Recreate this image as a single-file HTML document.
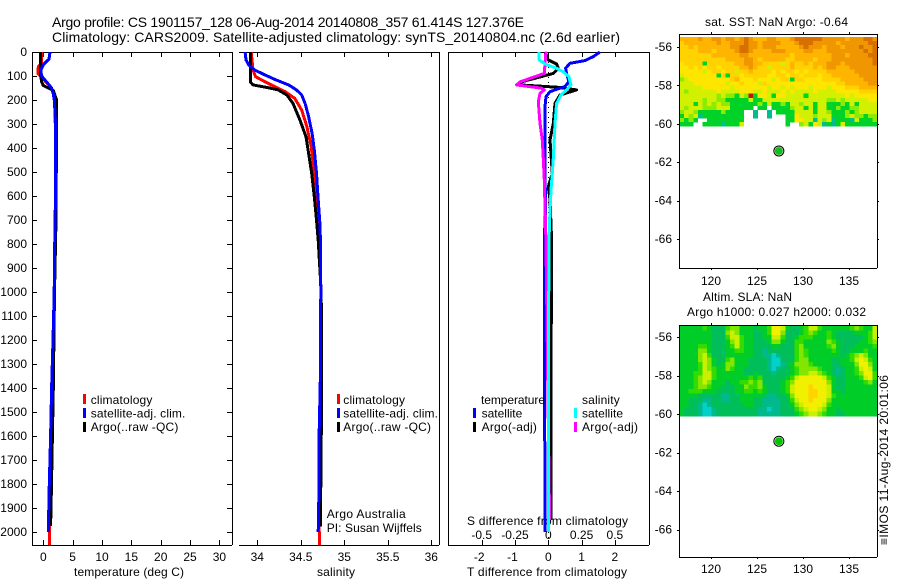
<!DOCTYPE html>
<html><head><meta charset="utf-8">
<style>
html,body{margin:0;padding:0;background:#fff;width:900px;height:580px;overflow:hidden}
svg{display:block}
text{font-family:"Liberation Sans",Arial,sans-serif;font-size:12px;fill:#000}
.title{font-size:14px}
</style></head>
<body>
<svg id="chart" width="900" height="580" viewBox="0 0 900 580" xmlns="http://www.w3.org/2000/svg">
<text class="title" x="52" y="27" textLength="472" lengthAdjust="spacing">Argo profile: CS 1901157_128 06-Aug-2014 20140808_357 61.414S 127.376E</text>
<text class="title" x="52" y="42" textLength="568" lengthAdjust="spacing">Climatology: CARS2009. Satellite-adjusted climatology: synTS_20140804.nc (2.6d earlier)</text>
<text x="74" y="576" textLength="110" lengthAdjust="spacing">temperature (deg C)</text>
<text x="317" y="576" textLength="38" lengthAdjust="spacing">salinity</text>
<text x="467" y="576" textLength="160" lengthAdjust="spacing">T difference from climatology</text>
<text x="467" y="525" textLength="161" lengthAdjust="spacing">S difference from climatology</text>
<text x="705" y="26" textLength="143" lengthAdjust="spacing">sat. SST: NaN Argo: -0.64</text>
<text x="703" y="301" textLength="89" lengthAdjust="spacing">Altim. SLA: NaN</text>
<text x="687" y="316" textLength="179" lengthAdjust="spacing">Argo h1000: 0.027 h2000: 0.032</text>
<text x="326.7" y="518" textLength="79" lengthAdjust="spacing">Argo Australia</text>
<text x="326.7" y="532" textLength="95" lengthAdjust="spacing">PI: Susan Wijffels</text>
<text transform="translate(888,545) rotate(-90)" textLength="170" lengthAdjust="spacing">≡IMOS 11-Aug-2014 20:01:06</text>
</svg>
<script>
// ---- axis tick labels ----
const depthTicks = [0,100,200,300,400,500,600,700,800,900,1000,1100,1200,1300,1400,1500,1600,1700,1800,1900,2000];
const tempTicks = [0,5,10,15,20,25,30];
const salTicks = [34,34.5,35,35.5,36];
const salTickLabels = ['34','34.5','35','35.5','36'];
const tDiffTicks = [-2,-1,0,1,2];
const sDiffTicks = [-0.5,-0.25,0,0.25,0.5];
const latTicks = [-56,-58,-60,-62,-64,-66];
const lonTicks = [120,125,130,135];

// ---- temperature panel ----
const climTempDepth = [0,50,60,90,110,150,175,200,300,700,1000,1400,1600,1800,2000,2054];
const climTempValue = [-0.28,-0.3,-0.85,-0.9,-0.1,1.4,1.7,1.9,2.05,2.05,1.85,1.45,1.25,1.05,1.02,1.02];
const argoTempDepth = [0,100,125,140,160,200,250,700,1000,1400,1600,1800,1975];
const argoTempValue = [-0.45,-0.45,-0.28,0,1.7,2.27,2.27,2.16,1.9,1.7,1.55,1.4,1.25];
const satTempDepth = [0,30,50,75,100,125,150,175,200,250,300,600,700,1000,1200,1400,1600,1800,2000];
const satTempValue = [1.14,0.97,0.11,-0.45,-0.28,0.57,1.42,1.7,1.88,2.0,2.1,2.1,2.0,1.85,1.65,1.42,1.25,1.02,0.85];

// ---- salinity panel ----
const climSalDepth = [0,75,103,124,144,165,193,242,311,394,505,644,783,1000,1400,1800,2054];
const climSalValue = [33.93,33.95,33.98,34.09,34.2,34.32,34.43,34.51,34.57,34.62,34.655,34.69,34.725,34.73,34.724,34.71,34.713];
const argoSalDepth = [0,124,137,149,158,179,214,283,353,422,505,603,700,783,1000,1400,1800,1977];
const argoSalValue = [33.92,33.92,33.95,34.13,34.24,34.34,34.41,34.49,34.56,34.59,34.625,34.655,34.68,34.7,34.735,34.74,34.73,34.724];
const satSalDepth = [0,33,54,75,96,117,137,158,179,214,269,339,408,505,616,714,783,1000,1367,1600,1800,2000];
const satSalValue = [33.86,33.87,33.9,33.97,34.09,34.22,34.36,34.45,34.51,34.55,34.59,34.63,34.655,34.68,34.7,34.72,34.725,34.73,34.724,34.71,34.71,34.7];

// ---- difference panel ----
const argoDiffDepth = [0,33,50,68,89,106,124,137,147,158,179,214,297,367,505,561,616,783,1400,1950];
const argoDiffT = [-0.1,0,0.25,0.3,0.15,-0.3,-0.8,-0.85,0.3,0.85,0.35,0.2,0.15,0.05,0.12,0,0.05,0.1,0.08,0.08];
const satDiffDepth = [0,19,36,47,68,89,124,144,165,186,228,367,505,644,783,1400,1740,2000];
const satDiffT = [1.55,1.35,1.1,0.65,0.52,0.55,0.62,0.5,0.05,-0.07,-0.1,-0.1,-0.1,-0.08,-0.12,-0.12,-0.1,-0.1];
const argoSalDiffDepth = [0,50,89,103,124,137,151,158,172,207,297,367,436,533,644,783,1950];
const argoSalDiffS = [-0.018,-0.025,-0.03,-0.1,-0.212,-0.238,-0.05,-0.03,-0.062,-0.075,-0.062,-0.045,-0.038,-0.03,-0.025,-0.018,0.01];
const satSalDiffDepth = [0,33,50,68,82,103,137,158,179,214,297,436,505,575,672,783,1400,2000];
const satSalDiffS = [-0.068,-0.068,-0.025,0.062,0.112,0.155,0.17,0.138,0.095,0.062,0.05,0.038,0.03,0.02,0.012,0.005,0,0];

// ---- float position ----
const floatLon = [127.376];
const floatLat = [-61.414];

// ---- SST map: colour levels per grid cell (null = no data) ----
const _ = null;
const sstLevels = [
[6,6,6,6,7,6,6,7,7,6,7,7,6,7,8,7,6,6,6,7,7,6,6,6,7,8,8,8,8,8,8,7,7,7,7,7,6,7,7,7,8,8,7],
[5,6,6,6,6,6,6,6,7,6,6,7,7,7,8,7,7,6,7,7,7,7,6,6,6,7,8,8,8,7,7,7,7,7,6,7,7,7,7,7,7,8,8],
[5,5,6,5,6,6,6,6,6,6,6,7,7,8,8,7,7,6,7,7,7,6,6,6,6,6,7,8,7,7,7,6,7,7,7,6,7,7,7,8,7,7,8],
[5,5,5,5,6,6,6,5,6,6,6,6,7,8,8,7,6,6,6,6,7,7,7,6,6,6,6,7,7,6,6,6,7,7,7,7,7,7,7,7,8,7,8],
[5,5,5,5,5,5,5,6,6,6,6,6,6,7,7,6,6,6,6,6,6,6,6,6,5,6,6,6,6,6,6,6,6,7,7,7,6,7,7,7,7,8,8],
[5,5,5,5,5,5,5,5,5,5,6,6,6,6,7,7,6,5,6,6,6,6,6,5,5,6,6,6,6,5,6,6,6,7,7,7,7,7,7,7,7,7,8],
[4,5,5,5,5,1,5,5,5,5,5,5,6,6,7,7,6,6,5,5,5,5,3,5,6,5,5,6,5,6,6,6,7,7,7,6,7,7,7,7,7,7,8],
[4,4,5,4,5,4,5,5,4,5,5,5,5,6,6,7,6,5,5,3,5,5,5,5,6,5,5,5,5,6,5,6,7,7,6,6,6,7,7,7,7,7,7],
[4,4,4,4,4,3,4,5,5,4,5,5,3,5,5,6,5,5,5,5,4,5,4,5,5,4,5,4,5,5,5,5,6,6,6,6,6,6,7,7,7,7,7],
[3,4,4,4,4,4,4,4,1,5,1,5,5,4,5,5,5,5,5,4,4,5,5,4,5,5,4,5,5,5,4,5,5,6,6,6,6,6,6,7,7,7,7],
[2,3,4,4,4,4,4,4,4,4,4,5,6,4,4,4,5,4,4,4,3,4,5,5,1,5,5,4,4,4,4,5,5,5,5,6,6,6,6,6,7,7,7],
[3,3,3,4,4,4,4,4,4,4,3,4,4,5,4,4,4,3,5,4,4,4,4,4,4,4,4,4,4,4,4,4,4,4,5,5,6,6,6,6,6,7,7],
[3,3,3,3,3,4,4,4,4,4,4,3,4,4,4,4,4,4,4,3,4,4,3,4,3,4,4,4,3,4,4,4,3,4,4,4,5,5,5,6,6,6,6],
[3,2,3,3,3,3,3,3,4,3,3,3,3,4,4,4,3,3,4,3,3,3,4,3,4,3,3,3,3,4,3,3,3,3,4,4,4,4,4,5,5,5,5],
[3,3,3,3,3,3,3,3,2,3,2,2,1,3,2,9,1,4,4,3,1,4,4,3,3,3,3,1,3,3,3,3,3,3,3,3,4,3,4,4,4,4,4],
[3,3,3,3,3,2,3,3,2,2,1,1,1,1,1,3,1,1,3,3,3,3,3,3,3,3,3,3,3,3,3,3,2,2,3,2,3,3,3,3,3,4,4],
[3,3,3,1,3,2,3,2,3,2,2,1,1,1,1,1,1,2,1,3,1,1,2,1,3,3,2,3,3,1,3,3,1,1,1,2,1,3,1,3,3,3,3],
[3,2,3,3,3,2,2,2,3,3,3,1,1,1,1,1,_,1,1,_,1,1,1,1,2,3,3,1,3,1,3,3,1,1,2,1,1,2,2,3,3,3,3],
[2,3,3,2,1,1,1,1,1,2,1,1,1,1,_,_,0,_,_,0,_,1,1,1,1,3,3,3,3,1,3,3,2,1,1,1,2,1,2,3,3,3,3],
[1,3,2,3,0,1,1,1,1,1,1,1,1,1,_,_,0,_,_,0,_,_,_,1,1,4,3,3,3,2,3,3,3,1,1,1,2,3,2,2,1,2,2],
[2,1,2,1,_,_,1,1,1,1,1,1,1,1,_,_,_,_,_,_,_,_,_,1,1,4,4,3,3,0,3,2,3,0,1,1,1,0,3,1,1,1,2],
[1,1,1,_,_,1,1,1,1,0,1,1,1,3,_,_,_,_,_,_,_,_,_,1,_,_,2,3,1,4,3,0,1,0,1,3,1,1,1,1,1,1,1]
];
const sstPalette = ['#00be8c','#00d228','#8ceb00','#d2f000','#ffe600','#ffd200','#ffb400','#f09600','#d87000','#be1400'];

// ---- SLA map: colour levels per grid cell ----
const slaLevels = [
[4,4,4,4,4,5,4,3,3,3,5,6,6,4,4,4,3,4,4,5,8,8,7,4,3,3,4,5,7,7,5,4,4,4,4,4,4,5,6,5,4,4,7],
[4,4,4,4,4,4,4,3,3,3,6,7,6,4,4,4,3,3,4,5,8,8,6,3,3,3,4,5,6,5,4,4,5,4,3,3,3,3,4,4,4,5,7],
[4,4,4,4,4,4,4,3,3,3,5,7,7,5,4,4,3,3,4,4,7,7,5,3,3,4,5,5,5,4,4,4,5,4,3,3,3,3,3,3,4,5,7],
[4,4,4,4,4,4,4,3,3,3,4,6,7,5,4,4,3,3,3,4,6,6,4,3,3,5,5,4,4,4,4,4,6,5,4,3,3,3,3,4,4,5,6],
[4,4,4,4,5,5,4,3,3,3,4,5,7,5,4,4,3,3,3,3,4,4,3,3,3,5,6,4,4,4,4,4,5,6,4,3,3,3,4,4,4,4,5],
[4,4,4,4,6,6,4,3,3,3,4,4,5,5,4,4,3,3,2,3,3,3,3,3,3,5,6,5,4,4,4,4,4,5,4,3,3,4,4,4,5,4,4],
[4,4,4,4,6,7,5,3,3,3,4,4,4,4,4,4,3,3,2,2,1,2,3,3,3,5,6,5,4,4,4,4,4,4,4,3,4,5,6,7,6,4,4],
[4,4,4,4,6,7,6,4,3,3,5,6,4,4,4,3,3,3,3,2,1,1,3,3,3,5,6,6,4,4,4,4,4,3,3,4,4,5,7,8,7,5,4],
[4,4,4,4,5,7,6,4,3,4,6,6,4,4,4,3,3,3,3,2,1,1,2,3,4,6,6,6,5,4,4,4,4,3,3,4,4,4,6,8,8,6,4],
[4,4,4,4,5,7,6,5,4,4,6,5,4,4,3,3,3,3,3,2,1,2,3,3,4,5,6,6,6,6,5,4,4,3,2,3,4,4,5,7,8,7,4],
[4,4,4,5,5,7,7,5,4,4,4,4,4,4,3,3,4,3,3,3,2,3,3,3,4,5,6,6,7,7,6,5,4,3,2,3,4,4,5,6,8,8,5],
[4,4,4,5,6,7,7,5,4,4,4,4,4,4,4,5,4,5,3,3,3,3,3,4,5,7,8,8,8,8,8,7,5,4,3,3,4,4,4,5,7,8,5],
[4,4,4,5,6,7,6,4,4,4,3,4,4,5,5,6,5,6,3,3,3,3,4,5,6,8,8,8,8,8,8,8,6,4,3,3,4,4,4,4,5,6,4],
[4,4,4,5,6,6,5,4,4,3,3,3,4,4,6,5,5,6,4,3,3,3,4,5,7,8,8,8,9,8,8,8,7,4,3,3,4,4,4,4,4,4,4],
[4,4,5,5,5,4,4,4,3,3,3,3,4,4,5,5,4,5,4,3,3,3,4,5,7,8,8,8,9,9,8,8,7,4,4,3,4,4,4,4,4,4,4],
[4,4,4,4,3,3,3,3,3,2,2,3,3,4,4,4,4,4,3,2,2,3,3,4,6,8,8,8,9,9,8,8,7,5,4,4,4,4,4,4,4,4,4],
[4,4,3,3,3,2,2,3,3,2,2,3,3,4,4,4,3,3,2,2,2,2,3,3,5,7,8,8,9,8,8,8,6,4,4,4,4,4,4,4,4,4,4],
[4,4,3,3,2,1,2,3,3,3,3,3,3,3,4,4,3,3,2,2,2,2,3,3,4,6,7,8,8,8,8,7,5,4,4,4,4,4,4,4,4,4,4],
[4,3,3,3,2,1,1,2,3,3,3,3,3,3,3,3,3,2,2,1,2,2,3,3,3,5,6,7,8,8,7,6,4,4,3,4,4,4,4,4,4,4,4],
[4,3,3,3,2,1,1,2,3,3,3,3,3,3,3,3,3,2,2,2,2,2,3,3,3,4,5,6,7,7,6,5,4,4,3,3,4,4,4,4,4,4,4]
];
const slaPalette = ['#00be8c','#00d2c8','#00b98c','#00be5a','#00cd28','#32dc00','#82e600','#c8f000','#f0f000','#ffd200'];

// ---- helpers ----
const NS = 'http://www.w3.org/2000/svg';
const svg = document.getElementById('chart');
function mk(tag, attrs) {
  const el = document.createElementNS(NS, tag);
  for (const k in attrs) el.setAttribute(k, attrs[k]);
  svg.appendChild(el);
  return el;
}
// axis functions
const yDepth = d => 52 + d * 0.24;
const xTemp = t => 43.3 + t * 5.87;
const xSal = s => 257.3 + (s - 34) * 87;
const xTDiff = t => 548.3 + t * 33.3;
const xSDiff = s => 548.3 + s * 133.2;
const xLon = lon => 711 + (lon - 120) * 9.2;
const yLatSst = lat => 47 + (-56 - lat) * 19.2;
const yLatSla = lat => 337 + (-56 - lat) * 19.25;
const px = v => Math.round(v) + 0.5;

function hLine(x1, x2, y, name) {
  const el = mk('line', {x1: x1, x2: x2, y1: px(y), y2: px(y), stroke: '#000', 'stroke-width': 1, 'shape-rendering': 'crispEdges'});
  
  
}
function vLine(x, y1, y2, name) {
  const el = mk('line', {x1: px(x), x2: px(x), y1: y1, y2: y2, stroke: '#000', 'stroke-width': 1, 'shape-rendering': 'crispEdges'});
  
  
}
function label(x, y, str, anchor, name, len) {
  const el = mk('text', {x: x, y: y, 'text-anchor': anchor});
  if (len) {
    el.setAttribute('textLength', len);
    el.setAttribute('lengthAdjust', 'spacing');
  }
  el.textContent = str;
  
  
}
function profile(depths, vals, xf, color, name) {
  const pts = depths.map((d, i) => xf(vals[i]).toFixed(1) + ',' + yDepth(d).toFixed(1)).join(' ');
  const el = mk('polyline', {points: pts, fill: 'none', stroke: color, 'stroke-width': 3, 'shape-rendering': 'crispEdges', 'stroke-linejoin': 'round'});
  
  
}
function legendBar(x, y, color, name) {
  const el = mk('rect', {x: x, y: y, width: 3, height: 10, fill: color});
  
  
}

// ---- profile panels: frames ----
const frameTop = 52, frameBottom = 545;
hLine(32, 232, frameTop, 'temperature-panel-top-axis');
hLine(32, 232, frameBottom, 'temperature-panel-bottom-axis');
vLine(32, frameTop, frameBottom, 'temperature-panel-left-axis');
vLine(232, frameTop, frameBottom, 'temperature-panel-right-axis');
hLine(239, 439, frameTop, 'salinity-panel-top-axis');
hLine(239, 439, frameBottom, 'salinity-panel-bottom-axis');
vLine(439, frameTop, frameBottom, 'salinity-panel-right-axis');
hLine(448, 649, frameTop, 'difference-panel-top-axis');
hLine(448, 649, frameBottom, 'difference-panel-bottom-axis');
vLine(448, frameTop, frameBottom, 'difference-panel-left-axis');
vLine(649, frameTop, frameBottom, 'difference-panel-right-axis');

depthTicks.forEach(d => {
  const y = yDepth(d);
  hLine(32, 37, y, 'depth-tick-left');
  hLine(227, 232, y, 'depth-tick-right');
  label(27, y + 4, String(d), 'end', 'depth-tick-label');
});
tempTicks.forEach(t => {
  const x = xTemp(t);
  vLine(x, 52, 57, 'temperature-tick-top');
  vLine(x, 540, 545, 'temperature-tick-bottom');
  label(x, 561, String(t), 'middle', 'temperature-tick-label');
});
salTicks.forEach((s, i) => {
  const x = xSal(s);
  vLine(x, 52, 57, 'salinity-tick-top');
  vLine(x, 540, 545, 'salinity-tick-bottom');
  label(x, 561, salTickLabels[i], 'middle', 'salinity-tick-label');
});
tDiffTicks.forEach(t => {
  const x = xTDiff(t);
  vLine(x, 52, 57, 'difference-tick-top');
  vLine(x, 540, 545, 'difference-tick-bottom');
  label(t < 0 ? x - 2.5 : x, 561, String(t), 'middle', 'difference-tick-label');
});
sDiffTicks.forEach(s => {
  label(xSDiff(s), 539, String(s), 'middle', 's-difference-tick-label');
});

// ---- profiles ----
profile(climTempDepth, climTempValue, xTemp, '#ff0000', 'climatology-temperature-line');
profile(argoTempDepth, argoTempValue, xTemp, '#000000', 'argo-temperature-line');
profile(satTempDepth, satTempValue, xTemp, '#0000ff', 'satellite-temperature-line');

profile(climSalDepth, climSalValue, xSal, '#ff0000', 'climatology-salinity-line');
profile(argoSalDepth, argoSalValue, xSal, '#000000', 'argo-salinity-line');
profile(satSalDepth, satSalValue, xSal, '#0000ff', 'satellite-salinity-line');

const zeroLine = mk('line', {x1: px(xTDiff(0)), x2: px(xTDiff(0)), y1: 52, y2: 545, stroke: '#000', 'stroke-width': 1, 'stroke-dasharray': '1 4', 'shape-rendering': 'crispEdges'});


profile(argoDiffDepth, argoDiffT, xTDiff, '#000000', 'argo-temperature-difference-line');
profile(satDiffDepth, satDiffT, xTDiff, '#0000ff', 'satellite-temperature-difference-line');
profile(argoSalDiffDepth, argoSalDiffS, xSDiff, '#ff00ff', 'argo-salinity-difference-line');
profile(satSalDiffDepth, satSalDiffS, xSDiff, '#00ffff', 'satellite-salinity-difference-line');

// ---- legends ----
legendBar(83, 394, '#ff0000', 'legend-climatology-swatch');
legendBar(83, 408, '#0000ff', 'legend-satellite-swatch');
legendBar(83, 422, '#000000', 'legend-argo-swatch');
label(90.7, 404, 'climatology', 'start', 'legend-climatology', 61.7);
label(90.7, 417.5, 'satellite-adj. clim.', 'start', 'legend-satellite', 94.7);
label(90.7, 431, 'Argo(..raw -QC)', 'start', 'legend-argo', 87.7);
legendBar(337, 394, '#ff0000', 'legend-climatology-swatch');
legendBar(337, 408, '#0000ff', 'legend-satellite-swatch');
legendBar(337, 422, '#000000', 'legend-argo-swatch');
label(343.3, 404, 'climatology', 'start', 'legend-climatology', 61.7);
label(343.3, 417.5, 'satellite-adj. clim.', 'start', 'legend-satellite', 94.7);
label(343.3, 431, 'Argo(..raw -QC)', 'start', 'legend-argo', 87.7);
label(481, 404, 'temperature', 'start', 'legend-temperature-heading', 64);
label(481.6, 417.5, 'satellite', 'start', 'legend-temperature-satellite', 40.7);
label(481.6, 431, 'Argo(-adj)', 'start', 'legend-temperature-argo', 55.3);
label(582, 404, 'salinity', 'start', 'legend-salinity-heading', 37.7);
label(582, 417.5, 'satellite', 'start', 'legend-salinity-satellite', 41);
label(582, 431, 'Argo(-adj)', 'start', 'legend-salinity-argo', 56);
legendBar(473, 408, '#0000ff', 'legend-temperature-satellite-swatch');
legendBar(473, 422, '#000000', 'legend-temperature-argo-swatch');
legendBar(574, 408, '#00ffff', 'legend-salinity-satellite-swatch');
legendBar(574, 422, '#ff00ff', 'legend-salinity-argo-swatch');

// ---- maps ----
const mapLeft = 679.5, mapRight = 877.5, colW = 4.6;
function heatmap(levels, palette, top, rowH, name) {
  levels.forEach((row, r) => {
    row.forEach((v, c) => {
      if (v === null) return;
      const el = mk('rect', {
        x: (mapLeft + c * colW).toFixed(1),
        y: (top + r * rowH).toFixed(1),
        width: colW + 0.3,
        height: rowH + 0.3,
        fill: palette[v],
        'shape-rendering': 'crispEdges'
      });
      
      
    });
  });
}
function mapFrame(top, bottom, yLat, prefix, labelGap) {
  hLine(679, 877, top, prefix + '-top-axis');
  hLine(679, 877, bottom, prefix + '-bottom-axis');
  vLine(679, top, bottom, prefix + '-left-axis');
  vLine(877, top, bottom, prefix + '-right-axis');
  latTicks.forEach(lat => {
    const y = yLat(lat);
    hLine(677, 679, y, prefix + '-lat-tick-left');
    hLine(877, 879, y, prefix + '-lat-tick-right');
    label(672, y + 4, String(lat), 'end', prefix + '-lat-tick-label');
  });
  lonTicks.forEach(lon => {
    const x = xLon(lon);
    vLine(x, top - 2, top, prefix + '-lon-tick-top');
    vLine(x, bottom, bottom + 2, prefix + '-lon-tick-bottom');
    label(x, bottom + labelGap, String(lon), 'middle', prefix + '-lon-tick-label');
  });
}
function floatMarker(cx, cy, color, name) {
  const outer = mk('circle', {cx: cx, cy: cy, r: 5, fill: '#fff', stroke: '#000', 'stroke-width': 1});
  
  
  const inner = mk('circle', {cx: cx, cy: cy, r: 4, fill: color});
  
  
}

heatmap(sstLevels, sstPalette, 37, 4.05, 'sst-cell');
mapFrame(34, 268, yLatSst, 'sst-map', 17);
floatMarker(xLon(floatLon[0]), yLatSst(floatLat[0]), '#14be1e', 'sst-float-marker');

heatmap(slaLevels, slaPalette, 326, 4.5, 'sla-cell');
mapFrame(325, 557, yLatSla, 'sla-map', 16);
floatMarker(xLon(floatLon[0]), yLatSla(floatLat[0]), '#00c800', 'sla-float-marker');
</script>
</body></html>
